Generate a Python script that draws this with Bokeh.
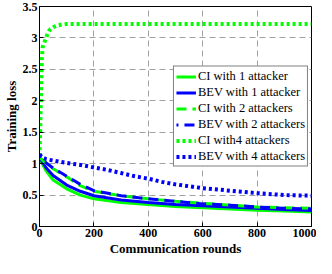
from bokeh.plotting import figure
from bokeh.models import Range1d, FixedTicker, Legend, LegendItem
from bokeh.embed import file_html
from bokeh.resources import INLINE

# ---- data ----
x_rounds = [0, 10, 25, 50, 100, 150, 200, 300, 400, 500, 600, 700, 800, 900, 1000]
ci_1 = [1.10, 1.00, 0.88, 0.74, 0.60, 0.50, 0.44, 0.38, 0.35, 0.32, 0.30, 0.28, 0.26, 0.245, 0.23]
bev_1 = [1.12, 1.03, 0.93, 0.81, 0.66, 0.56, 0.49, 0.42, 0.38, 0.35, 0.33, 0.31, 0.29, 0.27, 0.255]
ci_2 = [1.10, 1.06, 1.00, 0.92, 0.79, 0.65, 0.56, 0.49, 0.44, 0.40, 0.37, 0.34, 0.31, 0.30, 0.29]
bev_2 = [1.12, 1.07, 1.01, 0.93, 0.80, 0.67, 0.57, 0.49, 0.44, 0.40, 0.36, 0.34, 0.31, 0.29, 0.28]
x_rounds_4 = [0, 3, 6, 9, 12, 15, 18, 22, 26, 30, 35, 40, 50, 60, 80, 100, 200, 400, 600, 800, 1000]
ci_4 = [1.12, 1.6, 2.2, 2.7, 2.86, 2.9, 2.93, 2.97, 3.02, 3.07, 3.11, 3.14, 3.17, 3.19, 3.21, 3.22,
        3.22, 3.22, 3.22, 3.22, 3.22]
x_rounds_b4 = [0, 10, 25, 50, 100, 150, 200, 250, 300, 350, 400, 450, 500, 550, 600, 700, 800, 900, 1000]
bev_4 = [1.15, 1.10, 1.07, 1.05, 1.01, 0.98, 0.94, 0.90, 0.85, 0.80, 0.76, 0.71, 0.67, 0.64, 0.61,
         0.57, 0.53, 0.50, 0.49]

x_ticks = [0, 200, 400, 600, 800, 1000]
y_ticks = [0, 0.5, 1, 1.5, 2, 2.5, 3, 3.5]
y_tick_labels = ["0", "0.5", "1", "1.5", "2", "2.5", "3", "3.5"]
labels = ["CI with 1 attacker", "BEV with 1 attacker", "CI with 2 attackers",
          "BEV with 2 attackers", "CI with4 attackers", "BEV with 4 attackers"]
x_title = "Communication rounds"
y_title = "Training loss"

GREEN = "#00ff00"
BLUE = "#0000ff"
SERIF = "Liberation Serif"

p = figure(width=316, height=258, output_backend="svg", toolbar_location=None,
           x_range=Range1d(0, 1000), y_range=Range1d(0, 3.5),
           min_border_left=20, min_border_right=5, min_border_top=6, min_border_bottom=20)
p.outline_line_color = "black"
p.outline_line_width = 1

for ax in (p.xaxis[0], p.yaxis[0]):
    ax.major_label_text_font = SERIF
    ax.major_label_text_font_style = "bold"
    ax.major_label_text_font_size = "12px"
    ax.major_label_text_color = "black"
    ax.axis_label_text_font = SERIF
    ax.axis_label_text_font_style = "bold"
    ax.axis_label_text_font_size = "13px"
    ax.axis_label_text_color = "black"
    ax.major_tick_in = 4
    ax.major_tick_out = 0
    ax.minor_tick_line_color = None
    ax.axis_line_color = "black"
    ax.major_tick_line_color = "black"

p.xaxis[0].ticker = FixedTicker(ticks=x_ticks)
p.yaxis[0].ticker = FixedTicker(ticks=y_ticks)
p.yaxis[0].major_label_overrides = {t: l for t, l in zip(y_ticks, y_tick_labels)}
p.xaxis[0].axis_label = x_title
p.yaxis[0].axis_label = y_title
p.xaxis[0].major_label_standoff = 2
p.yaxis[0].major_label_standoff = 2
p.xaxis[0].axis_label_standoff = 1
p.yaxis[0].axis_label_standoff = 1

p.xgrid.ticker = FixedTicker(ticks=x_ticks)
p.ygrid.ticker = FixedTicker(ticks=y_ticks)
for g in (p.xgrid[0], p.ygrid[0]):
    g.grid_line_color = "#a0a0a0"
    g.grid_line_dash = "6 4"
    g.grid_line_width = 1

r1 = p.line(x_rounds, ci_1, line_color=GREEN, line_width=3)
r2 = p.line(x_rounds, bev_1, line_color=BLUE, line_width=3)
r3 = p.line(x_rounds, ci_2, line_color=GREEN, line_width=3, line_dash="10 6")
r4 = p.line(x_rounds, bev_2, line_color=BLUE, line_width=3, line_dash="10 6", line_dash_offset=8)
r5 = p.line(x_rounds_4, ci_4, line_color=GREEN, line_width=4, line_dash="3 3")
r6 = p.line(x_rounds_b4, bev_4, line_color=BLUE, line_width=4, line_dash="3 3")

legend = Legend(items=[LegendItem(label=l, renderers=[r]) for l, r in
                       zip(labels, [r1, r2, r3, r4, r5, r6])],
                location="center_right")
legend.label_text_font = SERIF
legend.label_text_font_size = "12.5px"
legend.label_text_color = "black"
legend.border_line_color = "black"
legend.border_line_width = 1
legend.background_fill_alpha = 1
legend.glyph_width = 20
legend.glyph_height = 14
legend.label_height = 14
legend.spacing = 1
legend.padding = 2
legend.margin = 3
legend.label_standoff = 2
p.add_layout(legend)

open("out.html", "w").write(file_html(p, INLINE))
